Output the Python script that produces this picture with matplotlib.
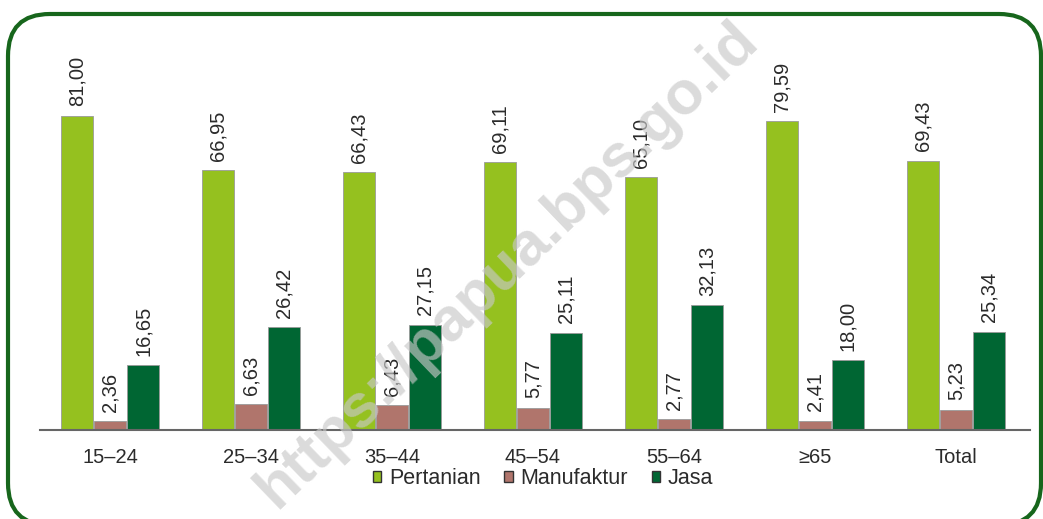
import numpy as np
import matplotlib.pyplot as plt
from matplotlib.patches import FancyBboxPatch

# Data
categories = ['15–24', '25–34', '35–44', '45–54', '55–64', '≥65', 'Total']
pertanian = [81.00, 66.95, 66.43, 69.11, 65.10, 79.59, 69.43]
manufaktur = [2.36, 6.63, 6.43, 5.77, 2.77, 2.41, 5.23]
jasa = [16.65, 26.42, 27.15, 25.11, 32.13, 18.00, 25.34]
series_names = ['Pertanian', 'Manufaktur', 'Jasa']
colors = ['#95c11f', '#b0756c', '#006633']

plt.rcParams['font.family'] = ['Liberation Sans', 'DejaVu Sans']

fig = plt.figure(figsize=(10.43, 5.19), dpi=100)

# rounded green frame, in inches so the corners stay round
frame = FancyBboxPatch((0.08, -0.06), 10.33, 5.11,
                       boxstyle="round,pad=0,rounding_size=0.42",
                       transform=fig.dpi_scale_trans, fill=False,
                       edgecolor='#17661c', linewidth=3)
fig.patches.append(frame)

ax = fig.add_axes([0.038, 0.1715, 0.95, 0.77])
x = np.arange(len(categories))
width = 0.225
offset = 0.235

for i, (vals, name, col) in enumerate(zip([pertanian, manufaktur, jasa], series_names, colors)):
    pos = x + (i - 1) * offset
    ax.bar(pos, vals, width, color=col, label=name, edgecolor='#9a9a9a', linewidth=0.6, zorder=2)
    for p, v in zip(pos, vals):
        ax.text(p, v + 2.4, '{:.2f}'.format(v).replace('.', ','), rotation=90,
                ha='center', va='bottom', fontsize=14.5, color='#2b2b2b', zorder=3)

ax.set_xlim(-0.5, 6.53)
ax.set_ylim(0, 103)
for s in ['top', 'right', 'left']:
    ax.spines[s].set_visible(False)
ax.spines['bottom'].set_color('#666666')
ax.spines['bottom'].set_linewidth(1.5)
ax.set_yticks([])
ax.set_xticks(x)
ax.set_xticklabels(categories, fontsize=14.5, color='#2b2b2b')
ax.tick_params(axis='x', length=0, pad=13)

leg = ax.legend(loc='upper center', bbox_to_anchor=(0.508, -0.047), ncol=3, frameon=False,
                fontsize=15.5, handlelength=0.4, handleheight=0.4, handletextpad=0.35,
                columnspacing=1.1)
for t in leg.get_texts():
    t.set_color('#2b2b2b')
for h in leg.legend_handles:
    h.set_edgecolor('#333333')
    h.set_linewidth(1.0)

# watermark
fig.text(0.487, 0.49, 'https://papua.bps.go.id', rotation=44, ha='center', va='center',
         fontsize=44, fontweight='bold', color='#c8c8c8', alpha=0.65, zorder=10)

fig.savefig('out.png', dpi=100)
